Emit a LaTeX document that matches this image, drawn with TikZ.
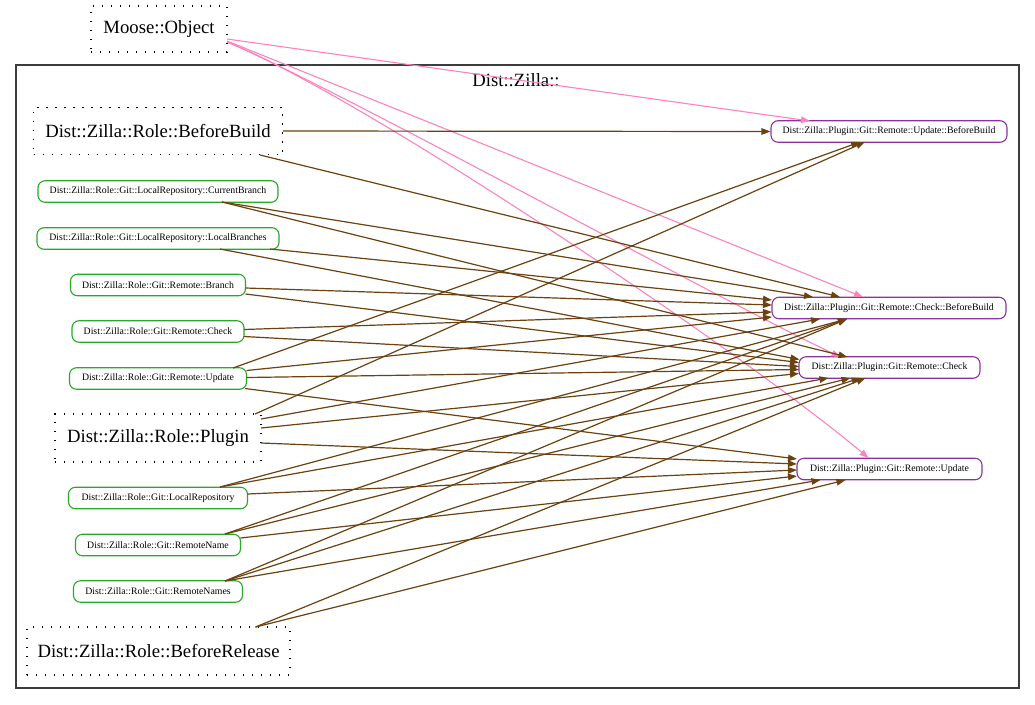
\documentclass[tikz,border=0pt]{standalone}
\usepackage{fontspec}
\setmainfont{Liberation Serif}
\usetikzlibrary{arrows.meta,calc}
\definecolor{edgebrown}{RGB}{107,66,16}
\definecolor{edgepink}{RGB}{255,130,190}
\definecolor{rolegreen}{RGB}{40,170,40}
\definecolor{plugpurple}{RGB}{140,50,160}
\definecolor{clustergray}{RGB}{60,60,60}
\tikzset{
  bigbox/.style={draw=black, line width=1.1pt, dash pattern=on 1.3pt off 7.7pt, inner sep=0pt, font=\fontsize{18.7}{22}\selectfont},
  rolebox/.style={draw=rolegreen, line width=1.1pt, rounded corners=7pt, inner sep=0pt, minimum height=21.5pt, font=\fontsize{9.8}{11}\selectfont},
  plugbox/.style={draw=plugpurple, line width=1.1pt, rounded corners=7pt, inner sep=0pt, minimum height=21.5pt, font=\fontsize{9.8}{11}\selectfont},
  e/.style={draw=edgebrown, line width=1.2pt, -{Triangle[length=9pt,width=6.5pt]}},
  pe/.style={draw=edgepink, line width=1.1pt, -{Triangle[length=9pt,width=6.5pt]}},
}
\begin{document}
\begin{tikzpicture}[x=1pt,y=-1pt]
\useasboundingbox (0,0) rectangle (1035,704);
\fill[white] (0,0) rectangle (1035,704);
% cluster
\draw[clustergray, line width=1.4pt] (16,65) rectangle (1019,688);
\node[font=\fontsize{18.7}{22}\selectfont] (cl) at (516,80) {Dist::Zilla::};
% left nodes
\node[bigbox, minimum width=136pt, minimum height=46pt] (mo) at (159,29) {Moose::Object};
\node[bigbox, minimum width=249pt, minimum height=47pt] (bb) at (158,131) {Dist::Zilla::Role::BeforeBuild};
\node[rolebox, minimum width=240pt] (cb) at (158,191.5) {Dist::Zilla::Role::Git::LocalRepository::CurrentBranch};
\node[rolebox, minimum width=242pt] (lb) at (158,238.5) {Dist::Zilla::Role::Git::LocalRepository::LocalBranches};
\node[rolebox, minimum width=175pt] (rb) at (158,285) {Dist::Zilla::Role::Git::Remote::Branch};
\node[rolebox, minimum width=172pt] (rc) at (158,331.5) {Dist::Zilla::Role::Git::Remote::Check};
\node[rolebox, minimum width=177pt] (ru) at (158,378.5) {Dist::Zilla::Role::Git::Remote::Update};
\node[bigbox, minimum width=206pt, minimum height=48pt] (pl) at (158,438) {Dist::Zilla::Role::Plugin};
\node[rolebox, minimum width=179pt] (lr) at (158,498) {Dist::Zilla::Role::Git::LocalRepository};
\node[rolebox, minimum width=165pt] (rn) at (158,545) {Dist::Zilla::Role::Git::RemoteName};
\node[rolebox, minimum width=169pt] (rns) at (158,591.5) {Dist::Zilla::Role::Git::RemoteNames};
\node[bigbox, minimum width=263pt, minimum height=48pt] (br) at (158.5,651) {Dist::Zilla::Role::BeforeRelease};
% right nodes
\node[plugbox, minimum width=236pt] (ubb) at (889,131.5) {Dist::Zilla::Plugin::Git::Remote::Update::BeforeBuild};
\node[plugbox, minimum width=234pt] (cbb) at (889,308) {Dist::Zilla::Plugin::Git::Remote::Check::BeforeBuild};
\node[plugbox, minimum width=181pt] (ch) at (889.5,367.5) {Dist::Zilla::Plugin::Git::Remote::Check};
\node[plugbox, minimum width=185pt] (up) at (889.5,469) {Dist::Zilla::Plugin::Git::Remote::Update};
% Moose::Object edges
\draw[pe] ($(mo)+(68,10)$) -- ($(ubb)+(-79,-10.5)$);
\draw[pe] ($(mo)+(68,12)$) -- ($(cbb)+(-26,-11)$);
\draw[pe] ($(mo)+(68,13)$) .. controls (330,85) and (720,300) .. ($(ch)+(-49,-10.5)$);
\draw[pe] ($(mo)+(68,13)$) .. controls (360,95) and (740,350) .. ($(up)+(-21,-11)$);
% BeforeBuild
\draw[e] (bb.east) -- (ubb.west);
\draw[e] ($(bb)+(102,24)$) -- ($(cbb)+(-49,-11)$);
% CurrentBranch
\draw[e] ($(cb)+(64,10.5)$) -- ($(cbb)+(-76,-11)$);
\draw[e] ($(cb)+(64,10.5)$) -- ($(ch)+(-42,-10.5)$);
% LocalBranches
\draw[e] ($(lb)+(112,10.5)$) -- ($(cbb)+(-117,-8)$);
\draw[e] ($(lb)+(62,10.5)$) -- ($(ch)+(-90,-8)$);
% Remote::Branch
\draw[e] ($(rb)+(87.5,3)$) -- ($(cbb)+(-117,-3)$);
\draw[e] ($(rb)+(87.5,9)$) -- ($(ch)+(-90.5,-5)$);
% Remote::Check
\draw[e] ($(rc)+(86,-2)$) -- ($(cbb)+(-117,4)$);
\draw[e] ($(rc)+(86,5)$) -- ($(ch)+(-90.5,-1)$);
% Remote::Update
\draw[e] ($(ru)+(75,-10.5)$) -- ($(ubb)+(-29,10.5)$);
\draw[e] ($(ru)+(88.5,-8)$) -- ($(cbb)+(-117,9)$);
\draw[e] ($(ru)+(88.5,-1)$) -- ($(ch)+(-90.5,2)$);
\draw[e] ($(ru)+(87,10)$) -- ($(up)+(-92.5,-10)$);
% Plugin
\draw[e] ($(pl)+(97,-24)$) -- ($(ubb)+(-24,10.5)$);
\draw[e] ($(pl)+(103,-19)$) -- ($(cbb)+(-69,11)$);
\draw[e] ($(pl)+(103,-10)$) -- ($(ch)+(-90.5,6)$);
\draw[e] ($(pl)+(103,5)$) -- ($(up)+(-92.5,-5)$);
% LocalRepository
\draw[e] ($(lr)+(62,-11)$) -- ($(cbb)+(-42,11)$);
\draw[e] ($(lr)+(62,-11)$) -- ($(ch)+(-61,10.5)$);
\draw[e] ($(lr)+(89.5,-4)$) -- ($(up)+(-92.5,1)$);
% RemoteName
\draw[e] ($(rn)+(67,-11)$) -- ($(cbb)+(-42,11)$);
\draw[e] ($(rn)+(67,-11)$) -- ($(ch)+(-39,10.5)$);
\draw[e] ($(rn)+(82.5,-7)$) -- ($(up)+(-92.5,7)$);
% RemoteNames
\draw[e] ($(rns)+(67,-10.5)$) -- ($(cbb)+(-42,11)$);
\draw[e] ($(rns)+(67,-10.5)$) -- ($(ch)+(-29,10.5)$);
\draw[e] ($(rns)+(67,-10.5)$) -- ($(up)+(-69,11)$);
% BeforeRelease
\draw[e] ($(br)+(97,-24)$) -- ($(ch)+(-24,10.5)$);
\draw[e] ($(br)+(97,-24)$) -- ($(up)+(-44,11)$);
\end{tikzpicture}
\end{document}
